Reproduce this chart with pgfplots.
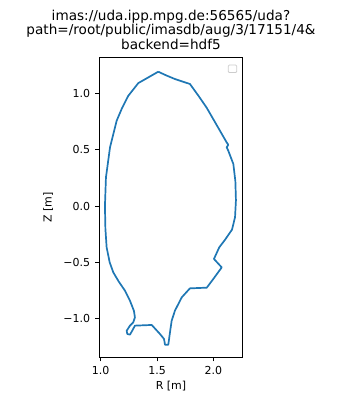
\documentclass[border=0pt]{standalone}
\usepackage{fontspec}
\setmainfont{DejaVu Sans}
\usepackage{pgfplots}
\pgfplotsset{compat=1.18}
\definecolor{mplblue}{HTML}{1F77B4}
\begin{document}
\begin{tikzpicture}
\useasboundingbox (0pt,0pt) rectangle (349pt,396pt);
\node[anchor=base, font=\fontsize{13.6}{15}\selectfont] at (171pt,375.3pt) {imas://uda.ipp.mpg.de:56565/uda?};
\node[anchor=base, font=\fontsize{13.6}{15}\selectfont] at (171pt,361pt) {path=/root/public/imasdb/aug/3/17151/4\&};
\node[anchor=base, font=\fontsize{13.6}{15}\selectfont] at (171pt,346.3pt) {backend=hdf5};
\begin{axis}[
  at={(99.3pt,38.7pt)}, anchor=south west,
  scale only axis, width=143.4pt, height=300pt,
  xmin=0.988, xmax=2.26, ymin=-1.343, ymax=1.32,
  xtick={1.0,1.5,2.0}, xticklabels={1.0,1.5,2.0},
  ytick={-1.0,-0.5,0.0,0.5,1.0}, yticklabels={−1.0,−0.5,0.0,0.5,1.0},
  tick pos=left,
  tick align=outside, major tick length=4pt,
  tick style={black, line width=0.9pt},
  axis line style={black, line width=0.9pt},
  ticklabel style={font=\fontsize{11}{13}\selectfont, text=black},
  xticklabel style={inner sep=0pt, anchor=north, yshift=-5pt},
  yticklabel style={inner sep=0pt, anchor=east, xshift=-5pt},
  label style={font=\fontsize{11}{13}\selectfont, text=black},
  xlabel={R [m]}, ylabel={Z [m]},
  xlabel style={at={([yshift=-32.7pt]rel axis cs:0.5,0)}, anchor=base},
  ylabel style={at={([xshift=-47.6pt]rel axis cs:0,0.5)}, anchor=base},
]
\addplot[mplblue, line width=1.7pt, line join=round] table {
1.511 1.192
1.58 1.16
1.659 1.127
1.792 1.083
1.87 0.975
1.94 0.873
2.014 0.745
2.118 0.564
2.132 0.544
2.118 0.520
2.132 0.491
2.177 0.373
2.195 0.22
2.200 0.05
2.192 -0.10
2.165 -0.21
2.103 -0.300
2.052 -0.367
2.005 -0.470
2.074 -0.545
1.999 -0.648
1.941 -0.725
1.792 -0.731
1.72 -0.81
1.689 -0.870
1.659 -0.929
1.630 -1.018
1.618 -1.10
1.600 -1.231
1.571 -1.231
1.562 -1.180
1.526 -1.136
1.453 -1.056
1.304 -1.062
1.284 -1.100
1.260 -1.142
1.236 -1.136
1.231 -1.107
1.260 -1.062
1.289 -1.033
1.304 -0.988
1.295 -0.930
1.260 -0.841
1.216 -0.752
1.16 -0.67
1.112 -0.589
1.08 -0.5
1.053 -0.367
1.042 -0.2
1.038 0.0
1.047 0.254
1.083 0.52
1.142 0.757
1.19 0.87
1.245 0.978
1.334 1.091
1.511 1.192
};
\draw[draw=black!20, fill=white, rounded corners=1pt, line width=0.8pt] (rel axis cs:0.8996,0.974) rectangle (rel axis cs:0.958,0.949);
\end{axis}
\end{tikzpicture}
\end{document}
